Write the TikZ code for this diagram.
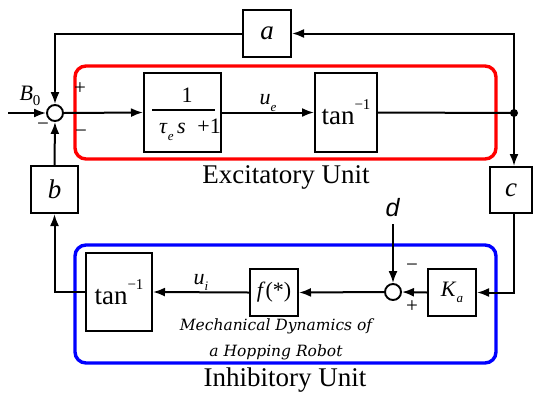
\documentclass[tikz,border=0pt]{standalone}
\usepackage{fontspec}
\setmainfont{Liberation Serif}
\newfontfamily\dsans{Liberation Sans}
\newfontfamily\mechfont{DejaVu Serif}
\usetikzlibrary{arrows.meta, positioning, calc}
\definecolor{excred}{RGB}{255, 0, 0}
\definecolor{inhblue}{RGB}{0, 0, 255}

\tikzset{
  blk/.style={draw, line width=2pt, inner sep=0pt, fill=white},
  sumpt/.style={draw, circle, line width=1.9pt, minimum size=16pt, inner sep=0pt, fill=white},
  sig/.style={line width=2pt, -{Latex[length=12pt, width=9pt]}},
  wire/.style={line width=2pt},
  unitbox/.style={line width=3.4pt, rounded corners=11pt},
  big/.style={font=\fontsize{27}{30}\selectfont},
  mid/.style={font=\fontsize{22}{24}\selectfont},
  sgn/.style={font=\fontsize{21}{21}\selectfont}
}
\newcommand{\atan}{tan\raisebox{0.55em}{\fontsize{15}{15}\selectfont −1}}
\newcommand{\sub}[1]{\raisebox{-0.3em}{\fontsize{13}{13}\selectfont\textit{#1}}}

\begin{document}
\begin{tikzpicture}[x=1pt, y=-1pt]
    \useasboundingbox (0,0) rectangle (534,394);

    % The Units (Background)
    \draw[unitbox, excred] (75,66) rectangle (496,159);
    \draw[unitbox, inhblue] (75,245) rectangle (496,363);
    \node[big] (exclbl) at (286,177) {Excitatory Unit};
    \node[big] (inhlbl) at (285,380) {Inhibitory Unit};

    % Excitatory path
    \node[sumpt] (sum1) at (55,113) {};
    \node[blk, minimum width=77pt, minimum height=79pt] (lag) at (182.5,112.5) {};
    \node[mid] (lagnum) at (187,95) {1};
    \draw[line width=1.6pt] (152,110) -- (215,110);
    \node[mid] (lagden) at (190,130) {\textit{τ}\sub{e}\,\textit{s}\; +1};
    \node[blk, big, minimum width=62pt, minimum height=79pt] (atan1) at (346,112.5) {\atan};
    \fill (514,113) circle (4pt);
    \coordinate (tap) at (514,113);

    % Feedback gains
    \node[blk, big, minimum width=48pt, minimum height=47pt] (a) at (267,33.5) {\textit{a}};
    \node[blk, big, minimum width=47pt, minimum height=47pt] (b) at (54.5,189.5) {\textit{b}};
    \node[blk, big, minimum width=42pt, minimum height=46pt] (c) at (511,190) {\textit{c}};

    % Inhibitory path
    \node[blk, mid, minimum width=48pt, minimum height=47pt] (Ka) at (452,292.5) {\textit{K}\sub{a}};
    \node[sumpt] (sum2) at (393,292) {};
    \node[blk, mid, minimum width=48pt, minimum height=47pt] (f) at (274,292.5) {\textit{f}(*)};
    \node[blk, big, minimum width=66pt, minimum height=78pt] (atan2) at (119,292) {\atan};
    \node[font=\mechfont\itshape\fontsize{15.5}{26}\selectfont, align=center] (mech) at (276,339)
        {Mechanical Dynamics of\\a Hopping Robot};

    % Inputs
    \coordinate (bin) at (8,113);
    \coordinate (din) at (393,224);
    \node[mid] (B0) at (30,96) {\textit{B}\raisebox{-0.25em}{\fontsize{15}{15}\selectfont 0}};
    \node[font=\dsans\fontsize{25}{25}\selectfont] (d) at (393,208) {\textit{d}};

    % Connectors
    \draw[sig] (bin) -- (sum1.west);
    \draw[sig] (sum1.east) -- (lag.west);
    \draw[sig] (lag.east) -- node[mid, above, yshift=-3pt] {\textit{u}\sub{e}} (atan1.west);
    \draw[wire] (atan1.east) -- (tap);
    \draw[sig] (tap) |- (a.east);
    \draw[sig] (a.west) -| (sum1.north);
    \draw[sig] (tap) -- (tap |- c.north);
    \draw[sig] (tap |- c.south) |- (Ka.east);
    \draw[sig] (Ka.west) -- (sum2.east);
    \draw[sig] (din) -- (sum2.north);
    \draw[sig] (sum2.west) -- (f.east);
    \draw[sig] (f.west) -- node[mid, above, yshift=-3pt] {\textit{u}\sub{i}} (atan2.east);
    \draw[sig] (atan2.west) -| (b.south);
    \draw[sig] (b.north) -- (sum1.south);

    % Signs
    \node[sgn] (p1) at (80,89) {+};
    \node[sgn] (m1) at (81,134) {−};
    \node[sgn] (m2) at (43,127) {−};
    \node[sgn] (m3) at (412,268) {−};
    \node[sgn] (p3) at (412,307) {+};
\end{tikzpicture}
\end{document}
